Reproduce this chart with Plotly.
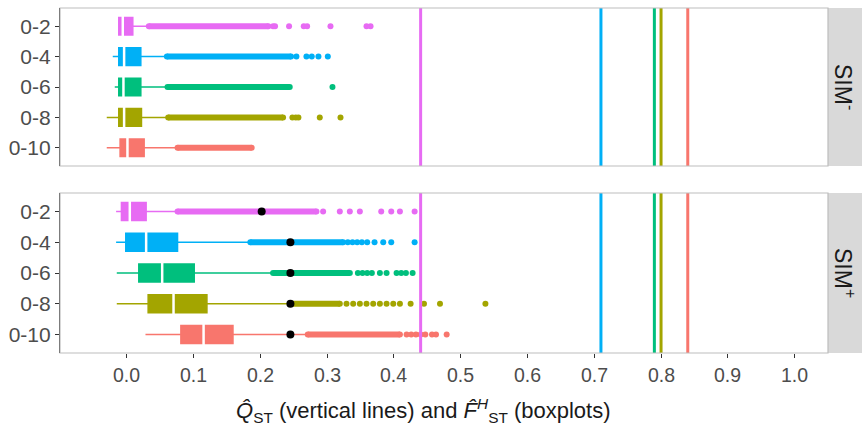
import plotly.graph_objects as go
from plotly.subplots import make_subplots

categories = ["0-2", "0-4", "0-6", "0-8", "0-10"]
colors = ["#E76BF3", "#00B0F6", "#00BF7D", "#A3A500", "#F8766D"]
qst = [0.44, 0.71, 0.79, 0.80, 0.84]

# SIM- (top panel)
m_lower = [-0.013, -0.021, -0.018, -0.030, -0.030]
m_q1 = [-0.012, -0.012, -0.012, -0.012, -0.010]
m_med = [-0.006, -0.004, -0.005, -0.004, 0.001]
m_q3 = [0.009, 0.021, 0.021, 0.022, 0.026]
m_upper = [0.033, 0.060, 0.061, 0.062, 0.076]
m_dense_end = [0.212, 0.246, 0.244, 0.234, 0.187]
m_sparse = [
    [0.219, 0.222, 0.243, 0.265, 0.270, 0.305, 0.359, 0.365],
    [0.254, 0.269, 0.277, 0.287, 0.301],
    [0.308],
    [0.248, 0.253, 0.257, 0.289, 0.320],
    [],
]

# SIM+ (bottom panel)
p_lower = [-0.016, -0.016, -0.015, -0.015, 0.028]
p_q1 = [-0.008, -0.0015, 0.018, 0.032, 0.081]
p_med = [0.0045, 0.029, 0.053, 0.070, 0.115]
p_q3 = [0.029, 0.076, 0.101, 0.120, 0.159]
p_upper = [0.076, 0.185, 0.219, 0.245, 0.271]
p_dense_end = [0.284, 0.324, 0.334, 0.319, 0.409]
p_sparse = [
    [0.294, 0.319, 0.334, 0.349, 0.381, 0.396, 0.409, 0.431],
    [0.331, 0.338, 0.345, 0.352, 0.360, 0.371, 0.384, 0.396, 0.431],
    [0.346, 0.353, 0.360, 0.367, 0.379, 0.389, 0.404, 0.411, 0.418, 0.428],
    [0.329, 0.339, 0.349, 0.359, 0.369, 0.379, 0.389, 0.399, 0.409, 0.425, 0.445, 0.469, 0.537],
    [0.419, 0.426, 0.433, 0.440, 0.447, 0.457, 0.463, 0.479],
]
p_black = [0.202, 0.245, 0.245, 0.245, 0.245]

x_ticks = [0.0, 0.1, 0.2, 0.3, 0.4, 0.5, 0.6, 0.7, 0.8, 0.9, 1.0]
x_tick_labels = ["0.0", "0.1", "0.2", "0.3", "0.4", "0.5", "0.6", "0.7", "0.8", "0.9", "1.0"]
panels = ["SIM<sup>-</sup>", "SIM<sup>+</sup>"]

FONT = "Liberation Sans, Arial, Helvetica, sans-serif"
TICKC = "#4d4d4d"

fig = make_subplots(rows=2, cols=1, shared_xaxes=True, vertical_spacing=0.0)

def add_panel(row, lower, q1, med, q3, upper, dense_end, sparse, black=None):
    for i, cat in enumerate(categories):
        c = colors[i]
        fig.add_trace(go.Box(
            y=[cat], q1=[q1[i]], median=[med[i]], q3=[q3[i]],
            lowerfence=[lower[i]], upperfence=[upper[i]],
            orientation="h", fillcolor=c, line=dict(color=c, width=1.5),
            width=0.58, whiskerwidth=0, boxpoints=False, showlegend=False,
            hoverinfo="skip"), row=row, col=1)
        # dense band of overlapping outliers
        fig.add_trace(go.Scatter(
            x=[upper[i], dense_end[i]], y=[cat, cat], mode="lines+markers",
            line=dict(color=c, width=6), marker=dict(color=c, size=6),
            showlegend=False, hoverinfo="skip"), row=row, col=1)
        if sparse[i]:
            fig.add_trace(go.Scatter(
                x=sparse[i], y=[cat] * len(sparse[i]), mode="markers",
                marker=dict(color=c, size=6), showlegend=False,
                hoverinfo="skip"), row=row, col=1)
    # white median lines
    fig.add_trace(go.Scatter(
        x=med, y=categories, mode="markers",
        marker=dict(symbol="line-ns", size=17,
                    line=dict(color="white", width=2.5)),
        showlegend=False, hoverinfo="skip"), row=row, col=1)
    if black is not None:
        fig.add_trace(go.Scatter(
            x=black, y=categories, mode="markers",
            marker=dict(color="black", size=8), showlegend=False,
            hoverinfo="skip"), row=row, col=1)

add_panel(1, m_lower, m_q1, m_med, m_q3, m_upper, m_dense_end, m_sparse)
add_panel(2, p_lower, p_q1, p_med, p_q3, p_upper, p_dense_end, p_sparse, p_black)

H = 345.0
top_dom = [1 - 158 / H, 1.0]
bot_dom = [0.0, 160 / H]

fig.update_layout(
    width=862, height=441,
    margin=dict(l=60, r=34, t=8, b=88),
    plot_bgcolor="white", paper_bgcolor="white",
    font=dict(family=FONT, color=TICKC),
    showlegend=False,
)

yax = dict(type="category", categoryorder="array",
           categoryarray=categories[::-1], range=[-0.6, 4.6],
           showline=True, linecolor="#1a1a1a", linewidth=1.2,
           ticks="outside", ticklen=4, tickcolor="#333333",
           ticksuffix="",
           tickfont=dict(size=21, color=TICKC, family=FONT),
           showgrid=False, zeroline=False, fixedrange=True)
fig.update_layout(yaxis=dict(domain=top_dom, **yax),
                  yaxis2=dict(domain=bot_dom, **yax))

fig.update_xaxes(range=[-0.1, 1.05], showgrid=False, zeroline=False,
                 tickvals=x_ticks, showticklabels=False)
fig.update_layout(
    xaxis=dict(ticks=""),
    xaxis2=dict(ticks="outside", ticklen=4, tickcolor="#333333"),
)

shapes = []
for xr, yr, dom in [("x", "y", top_dom), ("x2", "y2", bot_dom)]:
    # Q_ST vertical lines
    for i, v in enumerate(qst):
        shapes.append(dict(type="line", xref=xr, yref=yr + " domain",
                           x0=v, x1=v, y0=0, y1=1,
                           line=dict(color=colors[i], width=3)))
    # panel border
    shapes.append(dict(type="rect", xref=xr + " domain", yref=yr + " domain",
                       x0=0, x1=1, y0=0, y1=1,
                       line=dict(color="#bdbdbd", width=1.2)))
    # strip
    shapes.append(dict(type="rect", xref="paper", yref="paper",
                       x0=1.0, x1=1 + 34 / 768, y0=dom[0], y1=dom[1],
                       fillcolor="#d9d9d9", line=dict(width=0), layer="below"))
fig.update_layout(shapes=shapes)

annotations = []
# x tick labels (placed on the shared x axis scale)
for v, t in zip(x_ticks, x_tick_labels):
    annotations.append(dict(x=v, y=-(375 - 353) / H, xref="x2", yref="paper",
                            text=t, showarrow=False, xanchor="center",
                            yanchor="middle",
                            font=dict(size=19.5, color=TICKC, family=FONT)))
for dom, label in [(top_dom, panels[0]), (bot_dom, panels[1])]:
    annotations.append(dict(x=1 + 17 / 768, y=(dom[0] + dom[1]) / 2,
                            xref="paper", yref="paper", text=label,
                            textangle=90, showarrow=False,
                            font=dict(size=23, color="#1a1a1a", family=FONT),
                            xanchor="center", yanchor="middle"))
annotations.append(dict(
    x=(423 - 60) / 768, y=-(410 - 353) / H, xref="paper", yref="paper",
    text="<i>Q̂</i><sub>ST</sub> (vertical lines) and <i>F̂</i><sup><i>H</i></sup><sub>ST</sub> (boxplots)",
    showarrow=False, xanchor="center", yanchor="middle",
    font=dict(size=22, color="#1a1a1a", family=FONT)))
fig.update_layout(annotations=annotations)

fig.write_html("out.html")
